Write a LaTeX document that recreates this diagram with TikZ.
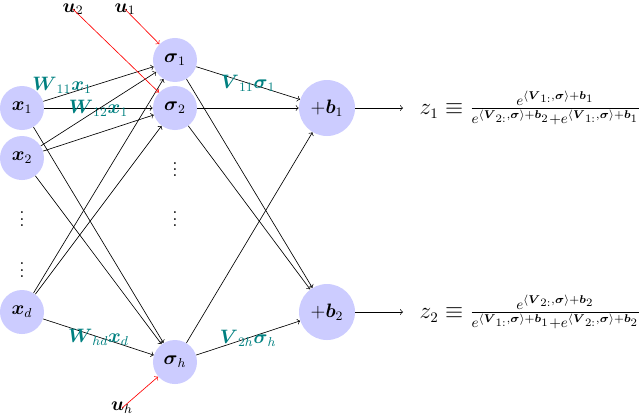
\documentclass[tikz,border=0pt]{standalone}
\usepackage{tikz}
\usepackage{amsmath}
\usepackage{xcolor}
\usetikzlibrary{arrows,positioning,calc}

\begin{document}
\begin{tikzpicture}[
    font=\large,
    neuron/.style={circle, fill=blue!20, minimum size=0.957cm, inner sep=0pt},
    sumnode/.style={circle, fill=blue!20, minimum size=1.217cm, inner sep=0pt},
    weight/.style={text=teal, inner sep=1pt},
    inflow/.style={->, red},
    softmax/.style={anchor=west, font=\fontsize{13.4}{16}\selectfont}
]
    \useasboundingbox (0,0) rectangle (13.913,-9.109);

    \node (x1) [neuron] at (0.478,-2.348) {$\boldsymbol{x}_1$};
    \node (x2) [neuron] at (0.478,-3.435) {$\boldsymbol{x}_2$};
    \node (dl1) [inner sep=0pt] at (0.478,-4.66) {$\vdots$};
    \node (dl2) [inner sep=0pt] at (0.478,-5.77) {$\vdots$};
    \node (xd) [neuron] at (0.478,-6.783) {$\boldsymbol{x}_d$};

    \node (s1) [neuron] at (3.804,-1.304) {$\boldsymbol{\sigma}_1$};
    \node (s2) [neuron] at (3.804,-2.348) {$\boldsymbol{\sigma}_2$};
    \node (dm1) [inner sep=0pt] at (3.804,-3.58) {$\vdots$};
    \node (dm2) [inner sep=0pt] at (3.804,-4.66) {$\vdots$};
    \node (sh) [neuron] at (3.804,-7.870) {$\boldsymbol{\sigma}_h$};

    \node (b1) [sumnode] at (7.109,-2.348) {$+\boldsymbol{b}_1$};
    \node (b2) [sumnode] at (7.109,-6.783) {$+\boldsymbol{b}_2$};

    \coordinate (o1) at (8.761,-2.348);
    \coordinate (o2) at (8.761,-6.783);
    \node (z1) [softmax] at (9.0,-2.348) {$z_1 \equiv \frac{e^{\langle \boldsymbol{V}_{1:},\boldsymbol{\sigma}\rangle+\boldsymbol{b}_1}}{e^{\langle \boldsymbol{V}_{2:},\boldsymbol{\sigma}\rangle+\boldsymbol{b}_2}+e^{\langle \boldsymbol{V}_{1:},\boldsymbol{\sigma}\rangle+\boldsymbol{b}_1}}$};
    \node (z2) [softmax] at (9.0,-6.783) {$z_2 \equiv \frac{e^{\langle \boldsymbol{V}_{2:},\boldsymbol{\sigma}\rangle+\boldsymbol{b}_2}}{e^{\langle \boldsymbol{V}_{1:},\boldsymbol{\sigma}\rangle+\boldsymbol{b}_1}+e^{\langle \boldsymbol{V}_{2:},\boldsymbol{\sigma}\rangle+\boldsymbol{b}_2}}$};

    \node (u2) [inner sep=1pt] at (1.587,-0.2) {$\boldsymbol{u}_2$};
    \node (u1) [inner sep=1pt] at (2.717,-0.2) {$\boldsymbol{u}_1$};
    \node (uh) [inner sep=1pt] at (2.652,-8.870) {$\boldsymbol{u}_h$};

    \draw [->] (x1) -- node [weight, pos=0.17, above] {$\boldsymbol{W}_{11}\boldsymbol{x}_1$} (s1);
    \draw [->] (x1) -- node [weight] {$\boldsymbol{W}_{12}\boldsymbol{x}_1$} (s2);
    \draw [->] (x1) -- (sh);
    \draw [->] (x2) -- (s1);
    \draw [->] (x2) -- (s2);
    \draw [->] (x2) -- (sh);
    \draw [->] (xd) -- (s1);
    \draw [->] (xd) -- (s2);
    \draw [->] (xd) -- node [weight] {$\boldsymbol{W}_{hd}\boldsymbol{x}_d$} (sh);

    \draw [->] (s1) -- node [weight] {$\boldsymbol{V}_{11}\boldsymbol{\sigma}_1$} (b1);
    \draw [->] (s1) -- (b2);
    \draw [->] (s2) -- (b1);
    \draw [->] (s2) -- (b2);
    \draw [->] (sh) -- (b1);
    \draw [->] (sh) -- node [weight] {$\boldsymbol{V}_{2h}\boldsymbol{\sigma}_h$} (b2);

    \draw [->] (b1) -- (o1);
    \draw [->] (b2) -- (o2);

    \draw [inflow] (u2.center) -- (s2);
    \draw [inflow] (u1.center) -- (s1);
    \draw [inflow] (uh.center) -- (sh);
\end{tikzpicture}
\end{document}
